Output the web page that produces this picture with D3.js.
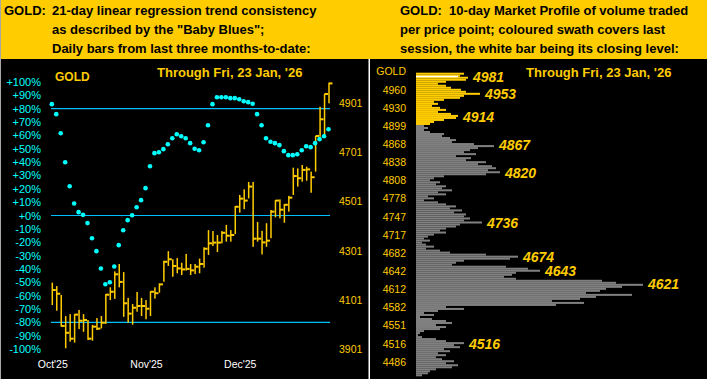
<!DOCTYPE html>
<html><head><meta charset="utf-8">
<script src="https://cdn.jsdelivr.net/npm/d3@7/dist/d3.min.js"></script>
<style>
html,body{margin:0;padding:0;background:#000;overflow:hidden}
svg{display:block}
text{font-family:"Liberation Sans",Arial,sans-serif}
</style></head><body>
<svg id="c" width="707" height="379"></svg>
<script>
// ---------- DATA ----------
const leftTitleLead = "GOLD:";
const leftTitle = ["21-day linear regression trend consistency", "as described by the \"Baby Blues\";", "Daily bars from last three months-to-date:"];
const rightTitle = ["GOLD:  10-day Market Profile of volume traded", "per price point; coloured swath covers last", "session, the white bar being its closing level:"];
const symbol = "GOLD";
const throughText = "Through Fri, 23 Jan, '26";

const months = ["Oct'25", "Nov'25", "Dec'25"];
const monthBars = [0, 21, 42];

const highs = [4171,4157,4121,4035,4043,4043,4060,4043,4019,3999,
               4027,4035,4125,4152,4217,4247,4214,4109,4084,4133,
               4109,4100,4136,4152,4168,4260,4299,4266,4271,4252,
               4288,4247,4247,4269,4315,4385,4381,4365,4381,4406,
               4385,4483,4528,4551,4581,4581,4418,4382,4413,4467,
               4507,4510,4491,4524,4639,4636,4650,4643,4623,4768,
               4887,4939,4985];
const lows  = [4080,4057,3992,3904,3931,3927,3982,3971,3938,3935,
               3978,3985,4003,4100,4105,4152,4032,4008,4000,4053,
               4035,4022,4035,4106,4130,4175,4239,4195,4209,4202,
               4220,4202,4206,4209,4232,4284,4320,4296,4331,4338,
               4338,4369,4456,4470,4514,4317,4338,4286,4317,4352,
               4437,4433,4415,4460,4528,4562,4582,4586,4537,4623,
               4765,4765,4901];
const closes = [4141,4126,3995,3967,3943,4041,4016,4019,3943,3992,
                3984,4008,4122,4134,4205,4174,4087,4045,4069,4076,
                4076,4065,4134,4128,4164,4256,4266,4239,4229,4225,
                4227,4221,4236,4247,4309,4331,4334,4334,4374,4362,
                4365,4480,4513,4505,4562,4350,4350,4335,4342,4460,
                4505,4468,4488,4517,4605,4596,4630,4632,4600,4768,
                4836,4939,4982];
const babyBlues = [83.4,75.9,61.6,39.9,21.9,9.0,2.5,0.5,-5.7,-17.0,
                   -26.7,-39.7,-51.5,-50.0,-38.2,-22.2,-11.0,-3.5,0.2,6.2,
                   11.5,20.5,36.9,46.7,47.4,49.7,53.4,57.9,60.9,59.4,
                   57.9,54.2,50.0,48.9,54.9,67.6,83.4,88.6,88.6,88.6,
                   87.9,87.9,87.1,85.6,84.9,83.7,75.9,67.6,57.9,55.2,
                   54.2,52.7,48.2,45.2,45.2,45.9,48.9,51.9,51.2,54.2,
                   57.2,59.4,64.6];
const pctTicks = [100,90,80,70,60,50,40,30,20,10,0,-10,-20,-30,-40,-50,-60,-70,-80,-90,-100];
const refLevels = [80, 0, -80];
const priceTicks = [3901, 4101, 4301, 4501, 4701, 4901];

// Market profile (rows from top to bottom, volume units)
const profileVol = [48,44,52,50,30,22,30,35,45,50,
  64,48,44,28,18,22,16,24,30,22,
  35,42,40,28,18,14,8,12,8,14,
  28,26,34,40,36,58,78,62,54,48,
  60,40,55,50,70,62,76,80,72,84,
  70,28,18,14,24,20,30,26,36,22,
  30,12,18,8,22,30,40,34,46,38,
  50,48,54,48,66,44,40,30,24,30,
  18,12,8,14,6,10,18,10,24,34,
  70,102,94,48,40,36,90,112,124,100,
  96,88,100,186,200,227,206,190,184,170,
  216,180,164,136,168,140,30,48,22,8,
  18,4,16,30,36,20,30,24,8,4,
  2,6,20,30,48,38,44,28,34,22,
  30,20,26,38,30,42,36,20,14,12,6];
const profileTicks = [4960,4930,4899,4868,4838,4808,4778,4747,4717,4682,4642,4612,4582,4551,4516,4486];
const profilePeaks = [4981,4953,4914,4867,4820,4736,4674,4643,4621,4516];
const profileCloseVol = 42;

// ---------- DRAW ----------
const W = 707, H = 379;
const GOLDC = "#FFCC00", CYAN = "#00FFFF", LINEC = "#00BFFF";
const svg = d3.select("#c");
svg.append("rect").attr("width", W).attr("height", H).attr("fill", "#000");
svg.append("rect").attr("width", W).attr("height", 59).attr("fill", GOLDC);
svg.append("rect").attr("x", 0).attr("y", 0).attr("width", 1).attr("height", H).attr("fill", "#a8a8a8");

// headers
const hb = [14.5, 33.5, 52.5];
svg.append("text").attr("x", 4).attr("y", hb[0]).attr("font-size", 13).attr("font-weight", "bold").attr("fill", "#000").text(leftTitleLead);
leftTitle.forEach((t, i) => svg.append("text").attr("x", 52).attr("y", hb[i]).attr("font-size", 13).attr("font-weight", "bold").attr("fill", "#000").text(t));
rightTitle.forEach((t, i) => svg.append("text").attr("x", 400).attr("y", hb[i]).attr("font-size", 13).attr("font-weight", "bold").attr("fill", "#000").style("white-space", "pre").text(t));

// ---- left chart ----
const x = d3.scaleLinear().domain([0, highs.length - 1]).range([52.3, 329]);
const yPct = d3.scaleLinear().domain([-100, 100]).range([349, 82]);
const yPx = d3.scaleLinear().domain([3901, 4901]).range([349, 103.3]);

svg.append("text").attr("x", 55).attr("y", 81).attr("font-size", 12).attr("font-weight", "bold").attr("fill", GOLDC).text(symbol);
svg.append("text").attr("x", 157).attr("y", 77).attr("font-size", 13).attr("font-weight", "bold").attr("fill", GOLDC).text(throughText);

const pctAxis = svg.append("g").attr("transform", "translate(44,0)")
  .call(d3.axisLeft(yPct).tickValues(pctTicks).tickSize(0).tickPadding(3)
    .tickFormat(d => (d >= 0 ? "+" : "") + d + "%"));
pctAxis.select(".domain").remove();
pctAxis.selectAll("text").attr("fill", CYAN).attr("font-size", 11).attr("font-family", "Liberation Sans, Arial, sans-serif");

const pxAxis = svg.append("g").attr("transform", "translate(339,0)")
  .call(d3.axisRight(yPx).tickValues(priceTicks).tickSize(0).tickPadding(0).tickFormat(d3.format("d")));
pxAxis.select(".domain").remove();
pxAxis.selectAll("text").attr("fill", GOLDC).attr("font-size", 10.5).attr("font-family", "Liberation Sans, Arial, sans-serif");

const mAxis = svg.append("g").attr("transform", "translate(0,361)")
  .call(d3.axisBottom(x).tickValues(monthBars).tickSize(0).tickPadding(0).tickFormat((d, i) => months[i]));
mAxis.select(".domain").remove();
mAxis.selectAll("text").attr("fill", "#fff").attr("font-size", 10.5).attr("font-family", "Liberation Sans, Arial, sans-serif");

svg.append("g").selectAll("line").data(refLevels).join("line")
  .attr("x1", 51).attr("x2", 330)
  .attr("y1", d => yPct(d)).attr("y2", d => yPct(d))
  .attr("stroke", LINEC).attr("stroke-width", 1.2);

const bars = svg.append("g");
highs.forEach((h, i) => {
  bars.append("rect").attr("x", x(i) - 0.75).attr("width", 1.5)
    .attr("y", yPx(h)).attr("height", yPx(lows[i]) - yPx(h)).attr("fill", GOLDC);
  bars.append("rect").attr("x", x(i)).attr("width", 3.5)
    .attr("y", yPx(closes[i]) - 1).attr("height", 2).attr("fill", GOLDC);
});

svg.append("g").selectAll("circle").data(babyBlues).join("circle")
  .attr("cx", (d, i) => x(i) - 0.5).attr("cy", d => yPct(d)).attr("r", 2.3).attr("fill", CYAN);

// ---- right chart ----
svg.append("rect").attr("x", 368.5).attr("y", 59).attr("width", 1.5).attr("height", H - 59).attr("fill", "#fff");

const yProf = d3.scaleLinear().domain(profileTicks).range(profileTicks.map((d, i) => 89.7 + i * 18.14));
const xProf = d3.scaleLinear().domain([0, 230]).range([416, 646]);
const yRow = d3.scaleBand().domain(d3.range(profileVol.length)).range([72.7, 376.3]);

const profAxis = svg.append("g").attr("transform", "translate(406,0)")
  .call(d3.axisLeft(yProf).tickValues(profileTicks).tickSize(0).tickPadding(0).tickFormat(d3.format("d")));
profAxis.select(".domain").remove();
profAxis.selectAll("text").attr("fill", GOLDC).attr("font-size", 10.5).attr("font-family", "Liberation Sans, Arial, sans-serif");
svg.append("text").attr("x", 406).attr("y", yProf(profileTicks[0]) - 18.14).attr("dy", "0.32em")
  .attr("text-anchor", "end").attr("font-size", 10.5).attr("fill", GOLDC).text(symbol);

const lastLow = lows[lows.length - 1];
svg.append("g").selectAll("rect").data(profileVol).join("rect")
  .attr("x", xProf(0)).attr("y", (d, k) => yRow(k))
  .attr("width", d => xProf(d) - xProf(0)).attr("height", yRow.bandwidth())
  .attr("fill", (d, k) => yProf.invert(yRow(k) + yRow.bandwidth() / 2) >= lastLow ? GOLDC : "#808080");

const yClose = yProf(closes[closes.length - 1]);
svg.append("line").attr("x1", xProf(0)).attr("x2", xProf(profileCloseVol))
  .attr("y1", yClose).attr("y2", yClose).attr("stroke", "#fff").attr("stroke-width", 1.5);

svg.append("text").attr("x", 526).attr("y", 77).attr("font-size", 13).attr("font-weight", "bold").attr("fill", GOLDC).text(throughText);

const bw = yRow.bandwidth();
svg.append("g").selectAll("text").data(profilePeaks).join("text")
  .attr("x", p => {
    const k = Math.floor((yProf(p) - 72.7) / bw);
    const v = d3.max([k - 1, k, k + 1].filter(j => j >= 0 && j < profileVol.length).map(j => profileVol[j]));
    return xProf(v) + 5;
  })
  .attr("y", p => yProf(p)).attr("dy", "0.36em")
  .attr("font-size", 14).attr("font-weight", "bold").attr("font-style", "italic").attr("fill", GOLDC)
  .text(p => p);
</script>
</body></html>
